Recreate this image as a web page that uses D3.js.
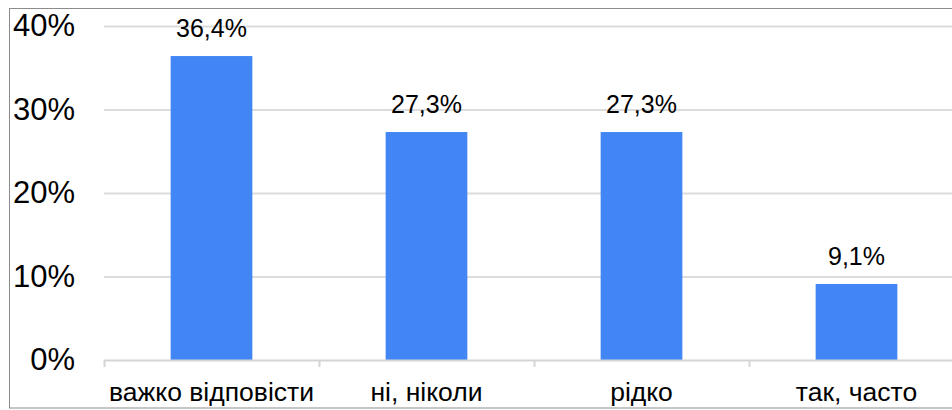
<!DOCTYPE html>
<html>
<head>
<meta charset="utf-8">
<script src="https://d3js.org/d3.v7.min.js"></script>
<style>
  * { margin:0; padding:0; }
  body { background:#fff; overflow:hidden; font-family:"Liberation Sans", Arial, sans-serif; }
  svg { display:block; }
</style>
</head>
<body>
<svg id="chart" width="952" height="410"></svg>
<script>
// Data
var categories = ["важко відповісти", "ні, ніколи", "рідко", "так, часто"];
var values     = [36.4, 27.3, 27.3, 9.1];
var valueLabels = ["36,4%", "27,3%", "27,3%", "9,1%"];
var yTicks     = [0, 10, 20, 30, 40];

var svg = d3.select("#chart");

var plotLeft = 104, plotRight = 964, plotTop = 26, plotBottom = 360;

var y = d3.scaleLinear().domain([0, 40]).range([plotBottom, plotTop]);
var band = d3.scaleBand().domain(categories).range([plotLeft, plotRight]);
var x = d3.scaleBand().domain(categories).range([plotLeft, plotRight])
  .paddingInner(0.62).paddingOuter(0.31);

// frame
svg.append("rect")
  .attr("x", 9.5).attr("y", 8.5)
  .attr("width", 960).attr("height", 399.5)
  .attr("fill", "none").attr("stroke", "#8c8c8c").attr("stroke-width", 1);

// gridlines + y labels
var yAxis = svg.append("g")
  .attr("transform", "translate(" + plotLeft + ",0)")
  .call(d3.axisLeft(y).tickValues(yTicks).tickSize(-(plotRight - plotLeft)).tickPadding(29)
    .tickFormat(function(d) { return d + "%"; }));
yAxis.select(".domain").remove();
yAxis.selectAll(".tick line")
  .attr("stroke", function(d) { return d === 0 ? "none" : "#dcdcdc"; })
  .attr("stroke-width", 2);
yAxis.selectAll(".tick text")
  .attr("font-family", "Liberation Sans, Arial, sans-serif")
  .attr("font-size", 31).attr("fill", "#000");

// bars
svg.selectAll(".bar")
  .data(categories)
  .join("rect")
  .attr("class", "bar")
  .attr("x", function(d) { return x(d); })
  .attr("width", x.bandwidth())
  .attr("y", function(d, i) { return y(values[i]); })
  .attr("height", function(d, i) { return y(0) - y(values[i]); })
  .attr("fill", "#4285f4");

// value labels
svg.selectAll(".val")
  .data(categories)
  .join("text")
  .attr("class", "val")
  .attr("x", function(d) { return x(d) + x.bandwidth() / 2; })
  .attr("y", function(d, i) { return y(values[i]) - 19; })
  .attr("text-anchor", "middle")
  .attr("font-size", 25).attr("fill", "#000")
  .text(function(d, i) { return valueLabels[i]; });

// x axis baseline + boundary ticks
svg.append("line")
  .attr("x1", plotLeft).attr("x2", plotRight)
  .attr("y1", plotBottom + 0.5).attr("y2", plotBottom + 0.5)
  .attr("stroke", "#d4d4d4").attr("stroke-width", 2);
var bounds = categories.map(function(d) { return band(d); }).concat([plotRight]);
svg.selectAll(".sep")
  .data(bounds)
  .join("line")
  .attr("class", "sep")
  .attr("x1", function(d) { return d + 0.5; }).attr("x2", function(d) { return d + 0.5; })
  .attr("y1", plotBottom).attr("y2", plotBottom + 7)
  .attr("stroke", "#d4d4d4").attr("stroke-width", 2);

// category labels
var xAxis = svg.append("g")
  .attr("transform", "translate(0," + plotBottom + ")")
  .call(d3.axisBottom(band).tickSize(0).tickPadding(0));
xAxis.select(".domain").remove();
xAxis.selectAll(".tick text")
  .attr("font-family", "Liberation Sans, Arial, sans-serif")
  .attr("font-size", 26.5).attr("fill", "#000")
  .attr("dy", null).attr("y", 40.5);
</script>
</body>
</html>
